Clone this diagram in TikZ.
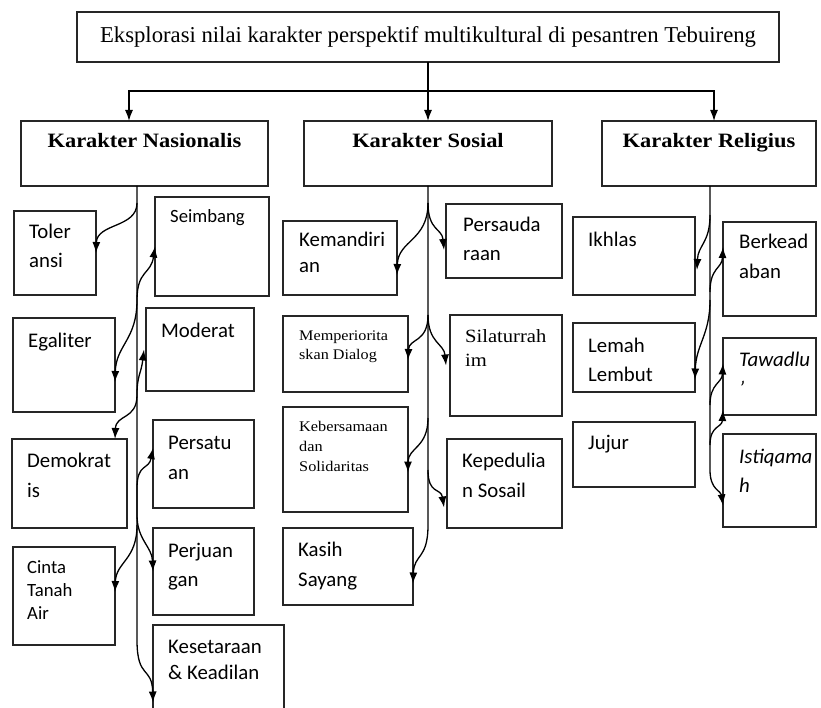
\documentclass[tikz,border=0pt]{standalone}
\usepackage{fontspec}
\setmainfont{Liberation Serif}
\newfontfamily\cambfont[FakeStretch=1.1]{Liberation Serif}
\newfontfamily\califont{Carlito}
\usetikzlibrary{arrows.meta,calc}
\newcommand\mybox[5]{\node[box, minimum width={(#4-#2)*1pt}, minimum height={(#5-#3)*1pt}] (#1) at ({(#2+#4)/2},{(#3+#5)/2}) {};}
\begin{document}
\begin{tikzpicture}[x=1pt,y=-1pt,
  box/.style={draw=black!85, line width=1.3pt, rectangle, inner sep=0pt, outer sep=0pt},
  txt/.style={anchor=base west, align=left, inner sep=0pt, font=\califont\fontsize{20.8}{29}\selectfont},
  head/.style={anchor=base, inner sep=0pt, font=\cambfont\bfseries\fontsize{20.4}{24}\selectfont},
  ln/.style={draw=black, line width=1.3pt},
  con/.style={ln, -{Latex[length=11pt,width=8pt]}},
  conb/.style={ln, {Latex[length=11pt,width=8pt]}-{Latex[length=11pt,width=8pt]}}]
\clip (0,0) rectangle (821,708);
\fill[white] (0,0) rectangle (821,708);

% title and headings
\node[box, minimum width=702pt, minimum height=50pt, font=\fontsize{22.7}{27}\selectfont] (title) at (428,37) {Eksplorasi nilai karakter perspektif multikultural di pesantren Tebuireng};
\mybox{nas}{21}{121}{268}{186}
\mybox{soc}{304}{121}{552}{186}
\mybox{rel}{602}{121}{816}{186}
\node[head] (nas-t) at (144.5,148) {Karakter Nasionalis};
\node[head] (soc-t) at (428,148) {Karakter Sosial};
\node[head] (rel-t) at (709,148) {Karakter Religius};

\coordinate (jn) at (428,91);
\coordinate (jl) at (129,91);
\coordinate (jr) at (714,91);
\draw[con] (title.south) -- (soc.north);
\draw[con] (jn) -- (jl) -- (jl |- nas.north);
\draw[con] (jn) -- (jr) -- (jr |- rel.north);

% Nasionalis boxes
\mybox{tol}{14}{211}{96}{295}
\mybox{seim}{155}{197}{269}{296}
\mybox{egal}{13}{318}{115}{412}
\mybox{mod}{146}{308}{254}{391}
\mybox{demo}{12}{439}{127}{528}
\mybox{pers}{153}{420}{254}{508}
\mybox{cinta}{13}{547}{115}{645}
\mybox{perj}{153}{528}{254}{615}
\mybox{kes}{153}{625}{284}{716}
% multi-line text nodes: base anchor = baseline of the last line
\node[txt] (tol-t) at (29,268) {Toler\\ansi};
\node[txt, font=\califont\fontsize{18.7}{23}\selectfont] (seim-t) at (170,223) {Seimbang};
\node[txt] (egal-t) at (28,347) {Egaliter};
\node[txt] (mod-t) at (161,337) {Moderat};
\node[txt, font=\califont\fontsize{20.8}{30}\selectfont] (demo-t) at (27,497) {Demokrat\\is};
\node[txt, font=\califont\fontsize{20.8}{30}\selectfont] (pers-t) at (168,479) {Persatu\\an};
\node[txt, font=\califont\fontsize{18.7}{23}\selectfont] (cinta-t) at (27,619) {Cinta\\Tanah\\Air};
\node[txt] (perj-t) at (168,586) {Perjuan\\gan};
\node[txt, font=\califont\fontsize{20.8}{26}\selectfont] (kes-t) at (168,679) {Kesetaraan\\\& Keadilan};

% Sosial boxes
\mybox{kem}{283}{221}{397}{295}
\mybox{persd}{446}{204}{562}{278}
\mybox{mem}{283}{316}{408}{392}
\mybox{sil}{450}{315}{562}{416}
\mybox{keb}{283}{407}{408}{512}
\mybox{kep}{447}{439}{562}{528}
\mybox{kas}{283}{528}{413}{605}
\node[txt, font=\califont\fontsize{20.8}{26}\selectfont] (kem-t) at (299,273) {Kemandiri\\an};
\node[txt] (persd-t) at (463,261) {Persauda\\raan};
\node[txt, font=\cambfont\fontsize{14.7}{19}\selectfont] (mem-t) at (299,359) {Memperiorita\\skan Dialog};
\node[txt, font=\cambfont\fontsize{18.7}{24}\selectfont] (sil-t) at (465,366) {Silaturrah\\im};
\node[txt, font=\cambfont\fontsize{14.8}{20}\selectfont] (keb-t) at (299,471) {Kebersamaan\\dan\\Solidaritas};
\node[txt, font=\califont\fontsize{20.8}{30}\selectfont] (kep-t) at (462,497) {Kepedulia\\n Sosail};
\node[txt, font=\califont\fontsize{20.8}{30}\selectfont] (kas-t) at (298,586) {Kasih\\Sayang};

% Religius boxes
\mybox{ikh}{573}{217}{695}{295}
\mybox{berk}{723}{222}{816}{316}
\mybox{lem}{573}{323}{695}{392}
\mybox{taw}{723}{338}{816}{415}
\mybox{juj}{573}{422}{695}{487}
\mybox{ist}{723}{434}{816}{527}
\node[txt] (ikh-t) at (588,247) {Ikhlas};
\node[txt, font=\califont\fontsize{20.8}{30}\selectfont] (berk-t) at (739,279) {Berkead\\aban};
\node[txt] (lem-t) at (588,381) {Lemah\\Lembut};
\node[txt, font=\califont\itshape\fontsize{20.8}{29}\selectfont] (taw-t) at (739,395) {Tawadlu\\’};
\node[txt] (juj-t) at (588,449) {Jujur};
\node[txt, font=\califont\itshape\fontsize{20.8}{29}\selectfont] (ist-t) at (739,492) {Istiqama\\h};

% Nasionalis connectors
\coordinate (n1) at (137,203);
\coordinate (n2) at (137,300);
\coordinate (n3) at (137,395);
\coordinate (n4) at (137,488);
\coordinate (n5) at (137,515);
\coordinate (n6) at (137,525);
\coordinate (nK) at (137,640);
\draw[con] (nas.south -| nK) -- (nK) .. controls +(0,40) and +(-1,-37) .. ([yshift=-32pt]kes.west);
\draw[con] (n1) .. controls +(0,25) and +(1,-30) .. (tol.east);
\draw[conb] (seim.west) .. controls +(-4,28) and +(0,-30) .. (n2) .. controls +(0,40) and +(1,-37) .. ([yshift=-17pt]egal.east);
\draw[conb] ([xshift=-2pt]mod.west) .. controls +(-3,25) and +(0,-20) .. (n3) .. controls +(0,25) and +(1,-25) .. ([xshift=-12pt]demo.north east);
\draw[conb] ([yshift=16pt]pers.west) .. controls +(-4,22) and +(0,-25) .. (n4) -- (n5) .. controls +(0,25) and +(-1,-25) .. (perj.west);
\draw[con] (n6) .. controls +(0,35) and +(1,-30) .. ([yshift=4pt]cinta.east);

% Sosial connectors
\coordinate (s1) at (428,203);
\coordinate (s2) at (428,315);
\coordinate (s3) at (428,418);
\coordinate (s4) at (428,470);
\coordinate (s7) at (428,525);
\draw[con] (soc.south) -- (s7) .. controls +(0,35) and +(1,-30) .. ([yshift=-17pt]kas.east);
\draw[con] (s1) .. controls +(0,38) and +(1,-35) .. ([yshift=-17pt]kem.east);
\draw[con] (s1) .. controls +(0,28) and +(-2,-22) .. ([yshift=-9pt, xshift=-2pt]persd.west);
\draw[con] (s2) .. controls +(0,28) and +(1,-22) .. ([yshift=-6pt]mem.east);
\draw[con] (s2) .. controls +(0,28) and +(-2,-22) .. ([xshift=-4pt]sil.west);
\draw[con] (s3) .. controls +(0,30) and +(0,-25) .. ([yshift=-13pt]keb.east);
\draw[con] (s4) .. controls +(0,25) and +(-3,-20) .. ([yshift=-24pt, xshift=-3pt]kep.west);

% Religius connectors
\coordinate (r1) at (710,215);
\coordinate (r2) at (710,292);
\coordinate (r3) at (710,300);
\coordinate (r4) at (710,405);
\coordinate (r5) at (710,470);
\coordinate (r6) at (710,445);
\draw[con] (rel.south -| r5) -- (r5) .. controls +(0,20) and +(-2,-15) .. ([yshift=-25pt]ist.west);
\draw[con] (r1) .. controls +(0,28) and +(1,-25) .. ([yshift=-14pt, xshift=2pt]ikh.east);
\draw[con] (r2) .. controls +(0,-25) and +(-1,22) .. ([yshift=22pt]berk.west);
\draw[con] (r3) .. controls +(0,35) and +(1,-35) .. ([yshift=-22pt]lem.east);
\draw[con] (r4) .. controls +(0,-22) and +(-1,20) .. ([yshift=13pt]taw.west);
\draw[con] (r6) .. controls +(0,-20) and +(-1,18) .. ([yshift=5pt]taw.south west);
\end{tikzpicture}
\end{document}
